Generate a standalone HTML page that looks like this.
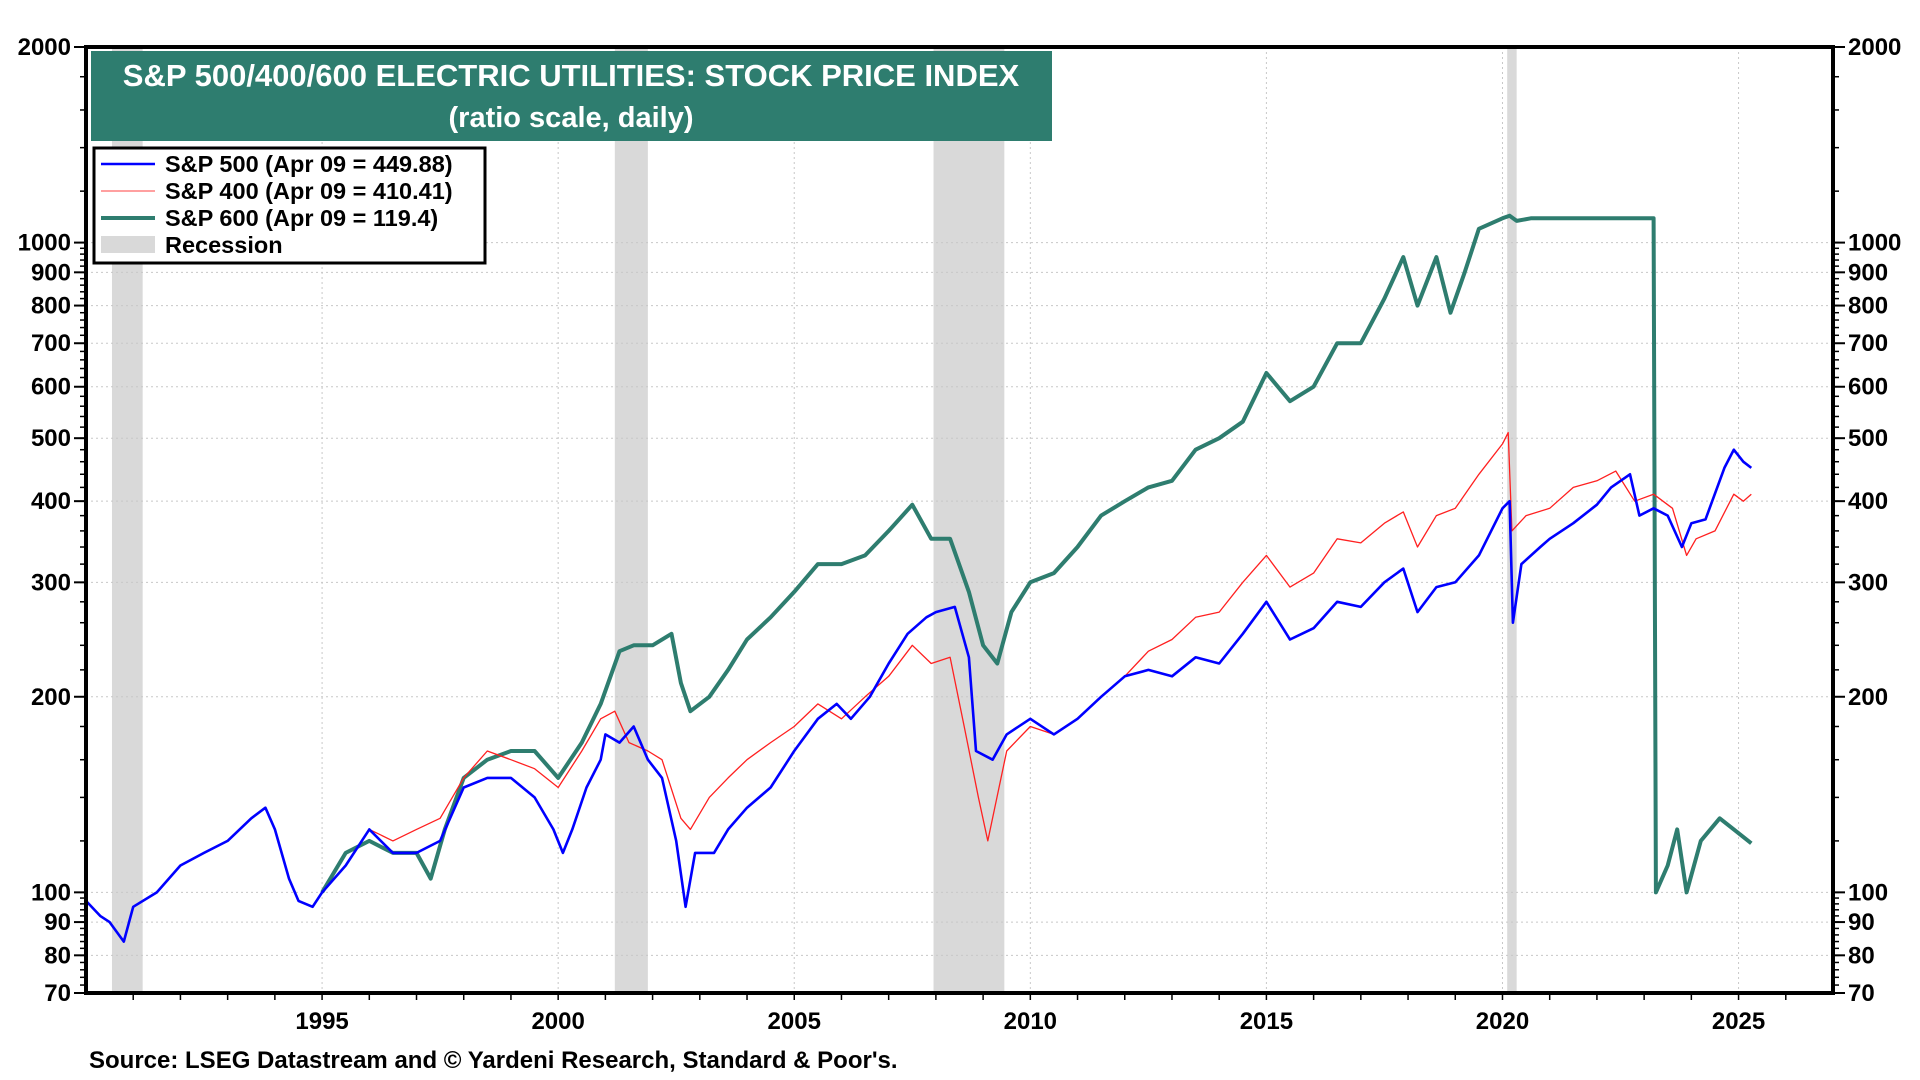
<!DOCTYPE html>
<html><head><meta charset="utf-8"><style>
html,body{margin:0;padding:0;background:#fff;width:1920px;height:1080px;overflow:hidden}
svg text{font-family:"Liberation Sans",Arial,sans-serif;font-weight:bold}
</style></head><body>
<svg id="chart" width="1920" height="1080" xmlns="http://www.w3.org/2000/svg"></svg>
<script>
const yTicks=[70,80,90,100,200,300,400,500,600,700,800,900,1000,2000];
const xTickYears=[1995,2000,2005,2010,2015,2020,2025];
const recessions=[[1990.55,1991.2],[2001.2,2001.9],[2007.95,2009.45],[2020.1,2020.3]];
const sp500Dates=[1990.0,1990.3,1990.5,1990.8,1991.0,1991.5,1992.0,1992.5,1993.0,1993.5,1993.8,1994.0,1994.3,1994.5,1994.8,1995.0,1995.5,1996.0,1996.5,1997.0,1997.5,1998.0,1998.5,1999.0,1999.5,1999.9,2000.1,2000.3,2000.6,2000.9,2001.0,2001.3,2001.6,2001.9,2002.2,2002.5,2002.7,2002.9,2003.3,2003.6,2004.0,2004.5,2005.0,2005.5,2005.9,2006.2,2006.6,2007.0,2007.4,2007.8,2008.0,2008.4,2008.7,2008.85,2009.2,2009.5,2010.0,2010.5,2011.0,2011.5,2012.0,2012.5,2013.0,2013.5,2014.0,2014.5,2015.0,2015.5,2016.0,2016.5,2017.0,2017.5,2017.9,2018.2,2018.6,2019.0,2019.5,2020.0,2020.15,2020.22,2020.4,2020.8,2021.0,2021.5,2022.0,2022.3,2022.7,2022.9,2023.2,2023.5,2023.8,2024.0,2024.3,2024.7,2024.9,2025.1,2025.27];
const sp500Values=[97,92,90,84,95,100,110,115,120,130,135,125,105,97,95,100,110,125,115,115,120,145,150,150,140,125,115,125,145,160,175,170,180,160,150,120,95,115,115,125,135,145,165,185,195,185,200,225,250,265,270,275,230,165,160,175,185,175,185,200,215,220,215,230,225,250,280,245,255,280,275,300,315,270,295,300,330,390,400,260,320,340,350,370,395,420,440,380,390,380,340,370,375,450,480,460,450];
const sp400Dates=[1995.5,1996.0,1996.5,1997.0,1997.5,1998.0,1998.5,1999.0,1999.5,2000.0,2000.5,2000.9,2001.2,2001.5,2001.9,2002.2,2002.6,2002.8,2003.2,2003.6,2004.0,2004.5,2005.0,2005.5,2006.0,2006.5,2007.0,2007.5,2007.9,2008.3,2008.6,2008.9,2009.1,2009.5,2010.0,2010.5,2011.0,2011.5,2012.0,2012.5,2013.0,2013.5,2014.0,2014.5,2015.0,2015.5,2016.0,2016.5,2017.0,2017.5,2017.9,2018.2,2018.6,2019.0,2019.5,2020.0,2020.12,2020.2,2020.5,2021.0,2021.5,2022.0,2022.4,2022.8,2023.2,2023.6,2023.9,2024.1,2024.5,2024.9,2025.1,2025.27];
const sp400Values=[110,125,120,125,130,150,165,160,155,145,165,185,190,170,165,160,130,125,140,150,160,170,180,195,185,200,215,240,225,230,180,140,120,165,180,175,185,200,215,235,245,265,270,300,330,295,310,350,345,370,385,340,380,390,440,490,510,360,380,390,420,430,445,400,410,390,330,350,360,410,400,410];
const sp600Dates=[1995.0,1995.5,1996.0,1996.5,1997.0,1997.3,1997.6,1998.0,1998.5,1999.0,1999.5,2000.0,2000.5,2000.9,2001.3,2001.6,2002.0,2002.4,2002.6,2002.8,2003.2,2003.6,2004.0,2004.5,2005.0,2005.5,2006.0,2006.5,2007.0,2007.5,2007.9,2008.3,2008.7,2009.0,2009.3,2009.6,2010.0,2010.5,2011.0,2011.5,2012.0,2012.5,2013.0,2013.5,2014.0,2014.5,2015.0,2015.5,2016.0,2016.5,2017.0,2017.5,2017.9,2018.2,2018.6,2018.9,2019.2,2019.5,2020.0,2020.15,2020.3,2020.6,2023.2,2023.25,2023.5,2023.7,2023.9,2024.2,2024.6,2024.9,2025.27];
const sp600Values=[100,115,120,115,115,105,125,150,160,165,165,150,170,195,235,240,240,250,210,190,200,220,245,265,290,320,320,330,360,395,350,350,290,240,225,270,300,310,340,380,400,420,430,480,500,530,630,570,600,700,700,820,950,800,950,780,900,1050,1090,1100,1080,1090,1090,100,110,125,100,120,130,125,119];

const NS="http://www.w3.org/2000/svg";
const svg=document.getElementById('chart');
const L=86,R=1833,T=47,B=993,X0=1990.0,X1=2027.0,VMAX=2000,VMIN=70;
function xs(t){return L+(t-X0)/(X1-X0)*(R-L);}
function ys(v){return T+(Math.log(VMAX)-Math.log(v))/(Math.log(VMAX)-Math.log(VMIN))*(B-T);}
function mk(tag,attrs,parent){const e=document.createElementNS(NS,tag);for(const k in attrs)e.setAttribute(k,attrs[k]);(parent||svg).appendChild(e);return e;}

recessions.forEach(r=>{
  const e=mk('rect',{x:xs(r[0]),y:T,width:xs(r[1])-xs(r[0]),height:B-T,fill:'#d9d9d9'});
  
  
});
yTicks.forEach(v=>{
  const e=mk('line',{x1:L,x2:R,y1:ys(v),y2:ys(v),stroke:'#c8c8c8','stroke-width':1,'stroke-dasharray':'2,3'});
  
  
});
xTickYears.forEach(y=>{
  const e=mk('line',{x1:xs(y),x2:xs(y),y1:T,y2:B,stroke:'#c8c8c8','stroke-width':1,'stroke-dasharray':'2,3'});
  
  
});
function line(dates,vals,color,w,name){
  let d='';dates.forEach((t,i)=>{d+=(i?'L':'M')+xs(t).toFixed(1)+','+ys(vals[i]).toFixed(1);});
  const e=mk('path',{d:d,fill:'none',stroke:color,'stroke-width':w,'stroke-linejoin':'round'});
  
  
}
line(sp600Dates,sp600Values,'#2e7d6f',4,'sp600-line');
line(sp400Dates,sp400Values,'#ff2020',1.3,'sp400-line');
line(sp500Dates,sp500Values,'#0000ff',2.6,'sp500-line');

const fr=mk('rect',{x:L,y:T,width:R-L,height:B-T,fill:'none',stroke:'#000','stroke-width':4});


const minor=[];for(let v=70;v<=2000;v+=(v<100?2:(v<1000?20:200)))minor.push(v);
minor.forEach(v=>{mk('line',{x1:L-6,x2:L,y1:ys(v),y2:ys(v),stroke:'#000','stroke-width':1.5});mk('line',{x1:R,x2:R+6,y1:ys(v),y2:ys(v),stroke:'#000','stroke-width':1.5});});
yTicks.forEach(v=>{
  mk('line',{x1:L-12,x2:L,y1:ys(v),y2:ys(v),stroke:'#000','stroke-width':2});
  mk('line',{x1:R,x2:R+12,y1:ys(v),y2:ys(v),stroke:'#000','stroke-width':2});
  const a=mk('text',{x:L-15,y:ys(v)+8,'text-anchor':'end','font-size':24,fill:'#000'});a.textContent=v;
  
  
  const b=mk('text',{x:R+15,y:ys(v)+8,'text-anchor':'start','font-size':24,fill:'#000'});b.textContent=v;
  
  
});
for(let y=1991;y<=2026;y++){mk('line',{x1:xs(y),x2:xs(y),y1:B,y2:B+7,stroke:'#000','stroke-width':1.5});}
xTickYears.forEach(y=>{
  const t=mk('text',{x:xs(y),y:B+36,'text-anchor':'middle','font-size':24,fill:'#000'});t.textContent=y;
  
  
});
</script>
<svg style="position:absolute;left:0;top:0" width="1920" height="1080">
  <g>
    <rect x="91" y="51" width="961" height="90" fill="#2e7d6f"/>
    <text x="571" y="86" text-anchor="middle" font-size="31" fill="#fff">S&amp;P 500/400/600 ELECTRIC UTILITIES: STOCK PRICE INDEX</text>
    <text x="571" y="127" text-anchor="middle" font-size="29" fill="#fff">(ratio scale, daily)</text>
  </g>
  <g>
    <rect x="94" y="148" width="391" height="115" fill="#fff" stroke="#000" stroke-width="3"/>
    <line x1="101" x2="155" y1="164" y2="164" stroke="#0000ff" stroke-width="2.5"/>
    <text x="165" y="172" font-size="23.5">S&amp;P 500 (Apr 09 = 449.88)</text>
    <line x1="101" x2="155" y1="191" y2="191" stroke="#ff8080" stroke-width="1.5"/>
    <text x="165" y="199" font-size="23.5">S&amp;P 400 (Apr 09 = 410.41)</text>
    <line x1="101" x2="155" y1="218" y2="218" stroke="#2e7d6f" stroke-width="4"/>
    <text x="165" y="226" font-size="23.5">S&amp;P 600 (Apr 09 = 119.4)</text>
    <rect x="101" y="236" width="54" height="17" fill="#d9d9d9"/>
    <text x="165" y="253" font-size="23.5">Recession</text>
  </g>
  <text x="89" y="1068" font-size="24">Source: LSEG Datastream and © Yardeni Research, Standard &amp; Poor's.</text>
</svg>
</body></html>
